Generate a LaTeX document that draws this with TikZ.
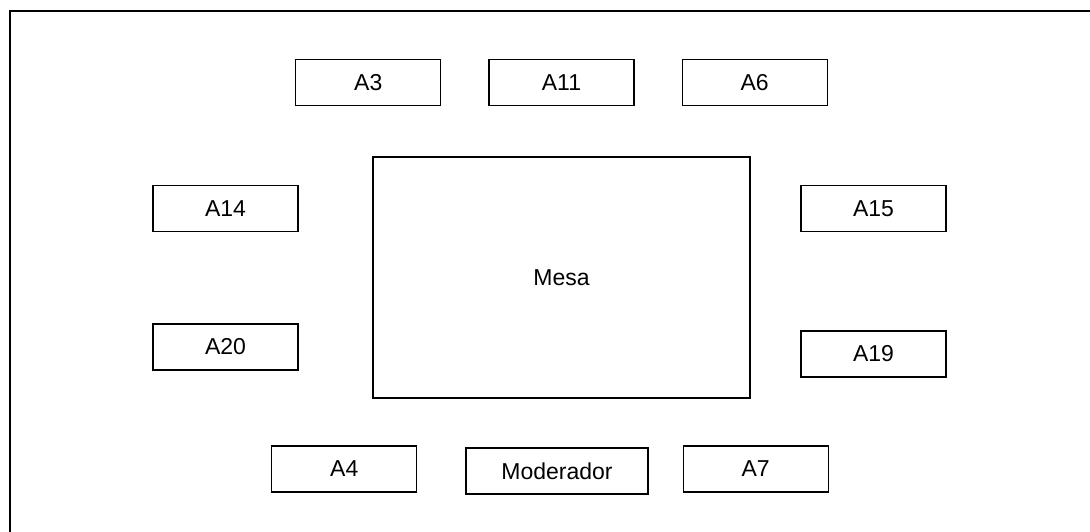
\documentclass[tikz,border=0pt]{standalone}
\usepackage{fontspec}
\setmainfont{Liberation Sans}
\usetikzlibrary{positioning}

\begin{document}
\begin{tikzpicture}[
    x=0.5pt, y=-0.5pt,
    seat/.style={rectangle, draw=black, line width=0.6pt, inner sep=0pt, minimum width=72.5pt, minimum height=23pt},
    table/.style={rectangle, draw=black, line width=0.6pt, inner sep=0pt, minimum width=188.5pt, minimum height=120.5pt},
    every node/.style={font=\fontsize{11.5}{13}\selectfont},
    node distance=25pt % gap between the table and the rows
]
\useasboundingbox (0,0) rectangle (1090,531);
\clip (0,0) rectangle (1090,531);

% Frame (runs past the page on the right and bottom)
\draw[line width=1pt] (10,560) -- (10,11) -- (1110,11);

% Table
\node[table] (mesa) at (561.5,277.5) {Mesa};

% Top row
\node[seat] (a11) [above=of mesa] {A11};
\node[seat] (a3) [left=23.5pt of a11] {A3};
\node[seat] (a6) [right=23.5pt of a11] {A6};

% Sides
\node[seat] (a14) at (225.5,208.5) {A14};
\node[seat] (a20) at (225.5,347) {A20};
\node[seat] (a15) at (873.5,208.5) {A15};
\node[seat] (a19) at (873.5,354) {A19};

% Bottom row
\node[seat, minimum width=91pt] (mod) at (557,471) {Moderador};
\node[seat] (a4) [left=24pt of mod, yshift=1pt] {A4};
\node[seat] (a7) [right=17pt of mod, yshift=1pt] {A7};

\end{tikzpicture}
\end{document}
